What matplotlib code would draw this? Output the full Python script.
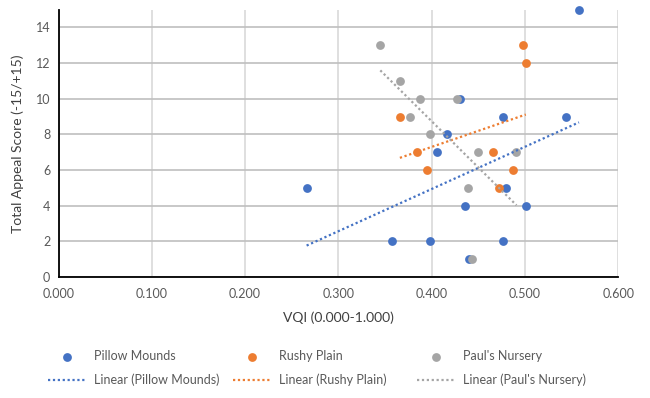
import numpy as np
import matplotlib
matplotlib.use('Agg')
import matplotlib.pyplot as plt

plt.rcParams['font.family'] = ['Lato', 'DejaVu Sans']

# data
pillow_x = [0.558, 0.430, 0.477, 0.544, 0.417, 0.406, 0.480, 0.436, 0.501,
            0.358, 0.398, 0.477, 0.440, 0.266]
pillow_y = [15, 10, 9, 9, 8, 7, 5, 4, 4, 2, 2, 2, 1, 5]
rushy_x = [0.498, 0.501, 0.366, 0.384, 0.466, 0.395, 0.487, 0.472]
rushy_y = [13, 12, 9, 7, 7, 6, 6, 5]
pauls_x = [0.345, 0.366, 0.388, 0.427, 0.377, 0.398, 0.4495, 0.491, 0.439, 0.443]
pauls_y = [13, 11, 10, 10, 9, 8, 7, 7, 5, 1]

series = [("Pillow Mounds", pillow_x, pillow_y, '#4472C4'),
          ("Rushy Plain", rushy_x, rushy_y, '#ED7D31'),
          ("Paul's Nursery", pauls_x, pauls_y, '#A5A5A5')]

fig = plt.figure(figsize=(6.5, 3.98), dpi=100)
ax = fig.add_axes([0.090, 0.304, 0.861, 0.672])

# legend columns start at these x pixel positions (excel spaces them evenly)
legend_x = [48, 233, 417]

for i, (name, xs, ys, col) in enumerate(series):
    sc = ax.scatter(xs, ys, s=40, color=col, zorder=3, linewidths=0, clip_on=False)
    # linear trendline over the data range
    m, b = np.polyfit(xs, ys, 1)
    xx = np.array([min(xs), max(xs)])
    ln, = ax.plot(xx, m*xx + b, color=col, linestyle=(0, (1, 1.2)), linewidth=1.6, zorder=4)
    leg = fig.legend([sc, ln], [name, 'Linear (' + name + ')'], loc='upper left',
                     bbox_to_anchor=(legend_x[i]/650, 1 - 350/398),
                     frameon=False, fontsize=9, labelcolor='#595959',
                     handlelength=3.1, handletextpad=0.6, labelspacing=0.95,
                     borderpad=0, borderaxespad=0)

ax.set_xlim(0, 0.6)
ax.set_ylim(0, 15)
ax.set_xticks(np.arange(0, 0.61, 0.1))
ax.set_xticklabels(['%.3f' % v for v in np.arange(0, 0.61, 0.1)])
ax.set_yticks(range(0, 15, 2))
ax.grid(axis='y', color='#BFBFBF', linewidth=1.2, zorder=0)
ax.grid(axis='x', color='#D9D9D9', linewidth=1.2, zorder=0)
ax.spines['top'].set_visible(False)
ax.spines['right'].set_visible(False)
ax.spines['left'].set_linewidth(1.3)
ax.spines['bottom'].set_linewidth(1.3)
ax.tick_params(length=0, labelsize=9, colors='#595959', pad=6)
ax.tick_params(axis='x', pad=8)

ax.set_xlabel('VQI (0.000-1.000)', fontsize=10, color='#404040', labelpad=8)
ax.set_ylabel('Total Appeal Score (-15/+15)', fontsize=10, color='#404040', labelpad=8)

fig.savefig('out.png', dpi=100)
